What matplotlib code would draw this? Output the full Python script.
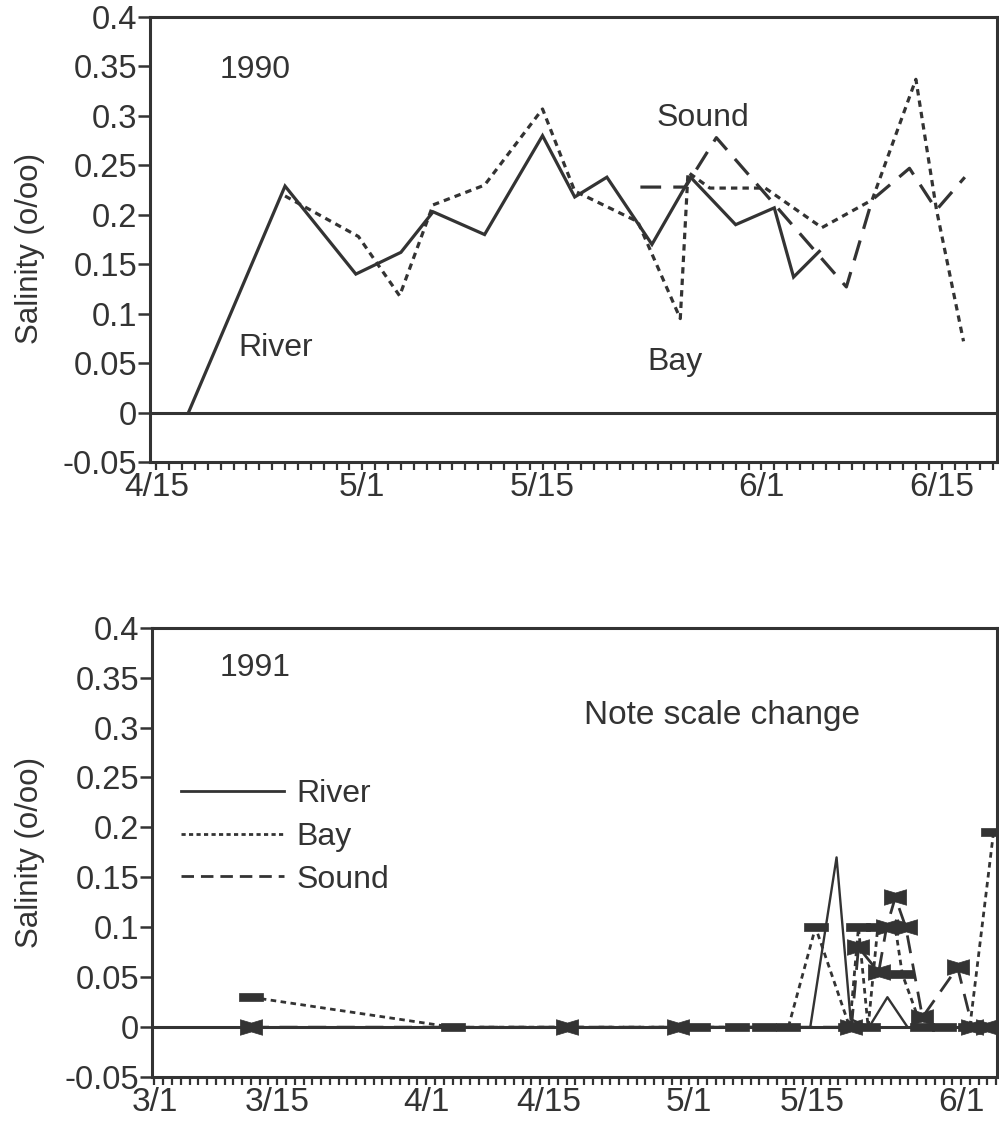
"""Salinity at River / Bay / Sound stations, spring 1990 and 1991 (two stacked panels)."""
import matplotlib
matplotlib.use("Agg")
import matplotlib.pyplot as plt
from matplotlib.path import Path
from matplotlib.lines import Line2D

plt.rcParams["font.family"] = ["Liberation Sans", "DejaVu Sans"]

INK = "#333333"

# ---- 1990 (x = day of year) ----
river90_days = [107.5, 115, 120.5, 124, 126.5, 130.5, 135, 137.5, 140, 143.5, 146.5, 150, 153, 154.5, 156.5]
river90 = [0, 0.229, 0.14, 0.162, 0.203, 0.18, 0.28, 0.218, 0.238, 0.17, 0.238, 0.19, 0.207, 0.137, 0.163]

bay90_days = [115, 120.7, 123.9, 126.5, 130.5, 135, 137.5, 142.4, 145.7, 146.3, 148, 152.3, 156.7, 160.6, 164, 165.6, 167.7]
bay90 = [0.219, 0.178, 0.118, 0.21, 0.23, 0.307, 0.224, 0.193, 0.095, 0.243, 0.227, 0.227, 0.187, 0.215, 0.337, 0.205, 0.072]

sound90_days = [142.6, 146.1, 148.5, 158.6, 160.6, 163.5, 165.6, 167.8]
sound90 = [0.228, 0.228, 0.278, 0.127, 0.215, 0.247, 0.205, 0.238]

# ---- 1991 ----
river91_days = [71, 134.8, 137.8, 139.4, 141.5, 143.6, 145.9, 156]
river91 = [0, 0, 0.17, 0.008, 0, 0.03, 0, 0]

bay91_days = [71, 94, 122, 126.5, 129.5, 132.3, 135.4, 139.3, 140.3, 141.4, 142.5, 144.5, 145.3, 147.5, 150, 153, 155.7]
bay91 = [0.03, 0, 0, 0, 0, 0, 0.1, 0, 0.1, 0, 0.1, 0.1, 0.053, 0, 0, 0, 0.195]

sound91_days = [71, 107, 119.7, 139.5, 140.3, 142.6, 143.5, 144.5, 145.7, 147.6, 151.6, 153.3, 155]
sound91 = [0, 0, 0, 0, 0.08, 0.055, 0.1, 0.13, 0.1, 0.01, 0.06, 0, 0]

ticks90 = [105, 121, 135, 152, 166]
ticklabels90 = ["4/15", "5/1", "5/15", "6/1", "6/15"]
ticks91 = [60, 74, 91, 105, 121, 135, 152]
ticklabels91 = ["3/1", "3/15", "4/1", "4/15", "5/1", "5/15", "6/1"]
yticks = [-0.05, 0, 0.05, 0.1, 0.15, 0.2, 0.25, 0.3, 0.35, 0.4]
yticklabels = ["-0.05", "0", "0.05", "0.1", "0.15", "0.2", "0.25", "0.3", "0.35", "0.4"]

# Cricket-graph style markers
BOWTIE = Path([(-1, -0.7), (0, -0.4), (1, -0.7), (1, 0.7), (0, 0.4), (-1, 0.7), (-1, -0.7)])
BAR = Path([(-1, -0.32), (1, -0.32), (1, 0.32), (-1, 0.32), (-1, -0.32)])

DOT = (0, (2.0, 1.6))
DASH = (0, (6.5, 3.8))


def style_axes(ax, xlim, ticks, labels):
    ax.set_xlim(*xlim)
    ax.set_ylim(-0.05, 0.4)
    for s in ax.spines.values():
        s.set_linewidth(2.2)
        s.set_color(INK)
    ax.axhline(0, color=INK, lw=2.2, zorder=1)
    ax.set_yticks(yticks)
    ax.set_yticklabels(yticklabels)
    ax.set_xticks(ticks)
    ax.set_xticklabels(labels)
    ax.set_xticks(range(int(xlim[0]) + 1, int(xlim[1]) + 1), minor=True)
    ax.tick_params(axis="y", direction="out", length=9, width=1.8, pad=0,
                   labelsize=23.5, colors=INK)
    ax.tick_params(axis="x", which="both", direction="out", length=6, width=1.6,
                   pad=1, labelsize=24, colors=INK)
    ax.set_ylabel("Salinity (o/oo)", fontsize=22.5, color=INK)


def main():
    fig = plt.figure(figsize=(9.99, 11.35), dpi=100)

    # --- 1990 ---
    ax1 = fig.add_axes([0.150, 0.593, 0.848, 0.392])
    style_axes(ax1, (104.5, 170.3), ticks90, ticklabels90)
    ax1.yaxis.set_label_coords(-0.124, 0.48)
    ax1.plot(river90_days, river90, color=INK, lw=2.3, solid_joinstyle="miter")
    ax1.plot(bay90_days, bay90, color=INK, lw=2.3, ls=DOT)
    ax1.plot(sound90_days, sound90, color=INK, lw=2.3, ls=DASH)
    ax1.text(0.124, 0.881, "1990", transform=ax1.transAxes, fontsize=23,
             ha="center", va="center", color=INK)
    ax1.text(0.148, 0.256, "River", transform=ax1.transAxes, fontsize=23,
             ha="center", va="center", color=INK)
    ax1.text(0.653, 0.773, "Sound", transform=ax1.transAxes, fontsize=23,
             ha="center", va="center", color=INK)
    ax1.text(0.620, 0.225, "Bay", transform=ax1.transAxes, fontsize=23,
             ha="center", va="center", color=INK)

    # --- 1991 ---
    ax2 = fig.add_axes([0.152, 0.051, 0.846, 0.396])
    style_axes(ax2, (59.7, 156.1), ticks91, ticklabels91)
    ax2.yaxis.set_label_coords(-0.126, 0.5)
    ax2.plot(river91_days, river91, color=INK, lw=1.7)
    ax2.plot(bay91_days, bay91, color=INK, lw=2.0, ls=DOT,
             marker=BAR, ms=17, mfc=INK, mec=INK, mew=0.5)
    ax2.plot(sound91_days, sound91, color=INK, lw=2.0, ls=DASH,
             marker=BOWTIE, ms=16, mfc=INK, mec=INK, mew=0.5)
    ax2.text(0.122, 0.911, "1991", transform=ax2.transAxes, fontsize=23,
             ha="center", va="center", color=INK)
    ax2.text(0.675, 0.804, "Note scale change", transform=ax2.transAxes, fontsize=24,
             ha="center", va="center", color=INK)

    handles = [Line2D([], [], color=INK, lw=2.0),
               Line2D([], [], color=INK, lw=2.0, ls=(0, (1.5, 1.2))),
               Line2D([], [], color=INK, lw=2.0, ls=(0, (4.5, 2.5)))]
    leg = ax2.legend(handles, ["River", "Bay", "Sound"], loc="upper left",
                     bbox_to_anchor=(0.035, 0.663), frameon=False, fontsize=23,
                     handlelength=3.2, handletextpad=0.4, labelspacing=0.4,
                     borderpad=0, borderaxespad=0)
    for t in leg.get_texts():
        t.set_color(INK)

    fig.savefig("out.png", dpi=100)


if __name__ == "__main__":
    main()
